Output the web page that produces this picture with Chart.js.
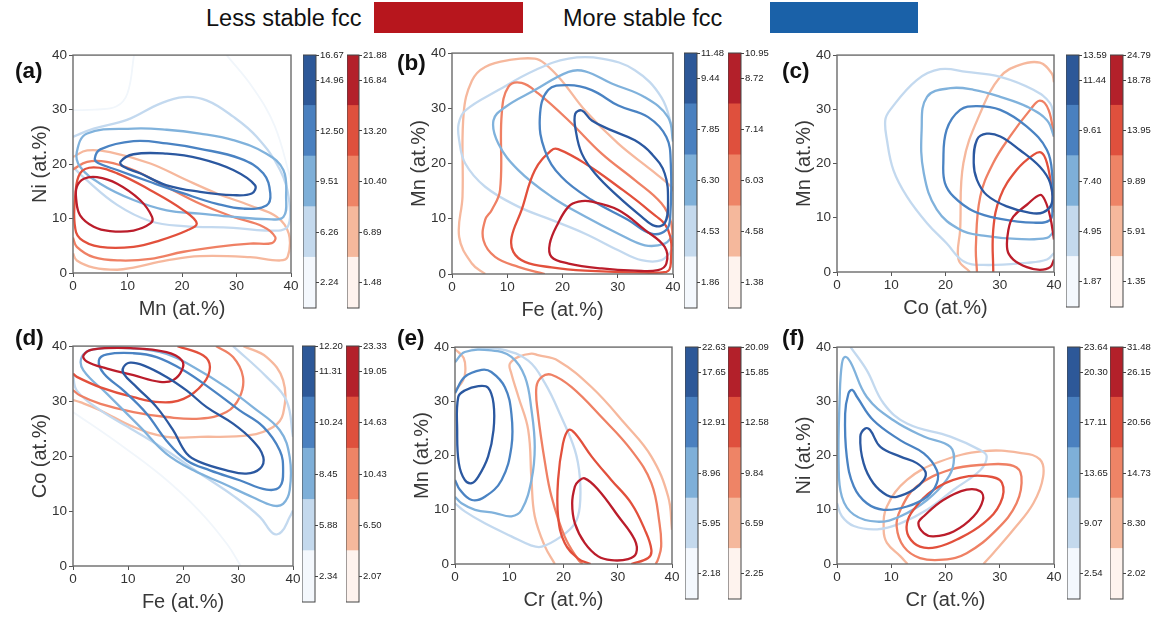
<!DOCTYPE html>
<html>
<head>
<meta charset="utf-8">
<script src="https://cdn.jsdelivr.net/npm/chart.js@4.4.1/dist/chart.umd.min.js"></script>
<style>
  html, body { margin: 0; padding: 0; background: #fff; }
  #wrap { position: relative; width: 1157px; height: 618px; overflow: hidden; background: #fff;
          font-family: 'Liberation Sans', Arial, sans-serif; }
  canvas { position: absolute; }
  .tag { position: absolute; font-weight: bold; font-size: 22.5px; line-height: 26px; color: #111; }
  .leg { position: absolute; font-size: 23.5px; line-height: 30px; color: #111; }
  .swatch { position: absolute; }
</style>
</head>
<body>
<div id="wrap"></div>
<script>
// ---------------- DATA ----------------
const AXIS_TICKS = [0, 10, 20, 30, 40];
const PANEL_TAGS = ['(a)', '(b)', '(c)', '(d)', '(e)', '(f)'];
const AXIS_X = ['Mn (at.%)', 'Fe (at.%)', 'Co (at.%)', 'Fe (at.%)', 'Cr (at.%)', 'Cr (at.%)'];
const AXIS_Y = ['Ni (at.%)', 'Mn (at.%)', 'Mn (at.%)', 'Co (at.%)', 'Mn (at.%)', 'Ni (at.%)'];
const LEGEND_LABELS = ['Less stable fcc', 'More stable fcc'];

// colorbar tick labels, bottom -> top (band centres, then top edge)
const CB_A_BLUE = ['2.24', '6.26', '9.51', '12.50', '14.96', '16.67'];
const CB_A_RED  = ['1.48', '6.89', '10.40', '13.20', '16.84', '21.88'];
const CB_B_BLUE = ['1.86', '4.53', '6.30', '7.85', '9.44', '11.48'];
const CB_B_RED  = ['1.38', '4.58', '6.03', '7.14', '8.72', '10.95'];
const CB_C_BLUE = ['1.87', '4.95', '7.40', '9.61', '11.44', '13.59'];
const CB_C_RED  = ['1.35', '5.91', '9.89', '13.95', '18.78', '24.79'];
const CB_D_BLUE = ['2.34', '5.88', '8.45', '10.24', '11.31', '12.20'];
const CB_D_RED  = ['2.07', '6.50', '10.43', '14.63', '19.05', '23.33'];
const CB_E_BLUE = ['2.18', '5.95', '8.96', '12.91', '17.65', '22.63'];
const CB_E_RED  = ['2.25', '6.59', '9.84', '12.58', '15.85', '20.09'];
const CB_F_BLUE = ['2.54', '9.07', '13.65', '17.11', '20.30', '23.64'];
const CB_F_RED  = ['2.02', '8.30', '14.73', '20.56', '26.15', '31.48'];

// contour lines: [x, y] in at.%, level 0 = highest density, level 4 = faint outer
const A_BLUE = [
  [[8.7,20.4],[11.1,21.8],[17.2,21.9],[23.3,21.0],[29.4,18.9],[33.4,16.1],[32.8,14.6],[29.4,14.3],[23.3,14.9],[17.2,16.1],[12.3,18.3],[9.3,19.5]],
  [[4.0,21.0],[5.0,22.7],[11.1,24.2],[17.2,23.8],[23.3,22.8],[30.7,21.0],[34.9,18.3],[36.2,14.6],[35.5,12.4],[31.3,11.8],[26.4,12.7],[20.3,14.6],[14.2,16.7],[8.1,18.9],[4.6,20.2]],
  [[0.7,22.2],[2.6,25.6],[11.1,26.5],[17.2,26.3],[23.3,25.6],[29.4,24.4],[35.5,21.9],[38.6,18.9],[39.1,14.0],[38.6,10.3],[35.5,9.9],[29.4,10.3],[23.3,10.9],[17.2,11.5],[11.1,13.4],[5.0,16.4],[1.3,19.5]],
  [[0,25.0],[3.8,26.5],[9.9,28.1],[16.0,31.1],[20.3,32.3],[24.5,31.7],[29.4,28.7],[33.7,25.0],[38.0,18.9],[39.7,13.0],[39.4,8.5],[35.5,7.8],[29.4,8.3],[20.3,8.6],[14.2,9.5],[8.1,12.5],[2.0,17.5],[0,19.5]],
  [[0,29.9],[4.0,30.0],[8.0,30.6],[10.0,33.0],[11.2,40]],
  [[28.2,40],[33.0,34.0],[37.0,27.0],[40,17]]
];
const A_BLUE_LVL = [0, 1, 2, 3, 4, 4];
const A_RED = [
  [[0.7,15.8],[2.0,17.3],[4.4,17.6],[8.1,16.4],[12.3,13.4],[14.5,10.3],[14.2,9.1],[11.1,7.8],[6.8,7.7],[3.8,8.5],[1.3,10.6],[0.6,13.4]],
  [[1.3,18.3],[3.8,19.4],[8.1,18.3],[14.2,15.2],[20.3,11.5],[22.7,9.1],[20.9,7.8],[16.0,6.0],[11.1,4.8],[5.0,4.8],[1.3,6.3],[0.3,9.0],[0.4,14.0]],
  [[0,19.0],[2.6,20.4],[6.2,20.4],[11.1,18.9],[17.2,15.8],[23.3,12.7],[29.4,10.3],[34.9,8.5],[37.1,6.6],[36.5,5.5],[32.5,5.4],[26.4,4.8],[20.3,3.9],[14.2,2.6],[8.7,2.3],[3.8,2.9],[0.7,4.8],[0,6.5]],
  [[0,21.3],[2.6,22.5],[6.8,22.2],[14.2,20.1],[20.3,17.3],[26.4,14.6],[32.5,12.4],[37.4,10.3],[39.6,7.2],[39.4,3.0],[38.0,2.3],[32.5,2.9],[23.3,3.1],[17.2,2.3],[11.1,1.0],[8.1,0.6],[3.8,1.0],[0.7,2.3],[0,3.6]]
];
const A_RED_LVL = [0, 1, 2, 3];

const B_BLUE = [
  [[22.3,29.0],[23.5,29.6],[25.3,27.8],[28.9,26.0],[33.1,24.2],[36.1,21.8],[38.5,18.2],[39.1,12.8],[38.5,9.2],[36.7,8.7],[34.3,10.4],[30.1,14.0],[25.9,18.2],[23.5,21.8],[22.4,26.0]],
  [[15.9,28.4],[17.4,33.3],[21.1,34.2],[25.3,33.3],[30.1,30.5],[35.5,28.4],[38.8,24.8],[39.6,20.0],[39.5,10.4],[38.8,8.0],[36.1,7.3],[31.9,9.8],[25.3,13.4],[19.8,17.6],[16.8,22.4]],
  [[40,24],[39.1,28.4],[34.9,32.0],[28.9,34.5],[24.1,36.7],[21.1,36.6],[15.0,33.3],[9.6,30.2],[7.5,27.8],[8.4,23.6],[12.0,18.8],[18.0,14.0],[24.1,10.4],[30.1,7.3],[34.9,5.2],[38.5,5.5],[40,7]],
  [[40,26],[37.9,32.0],[33.1,36.9],[27.1,39.0],[21.1,39.0],[15.0,36.9],[8.4,33.3],[2.4,29.6],[1.2,27.2],[1.3,24.2],[2.4,20.0],[6.0,15.8],[12.0,12.2],[18.0,9.8],[24.1,7.3],[30.1,4.3],[34.3,2.5],[37.9,2.5],[40,4.5]]
];
const B_BLUE_LVL = [0, 1, 2, 3];
const B_RED = [
  [[19.2,9.2],[21.1,12.2],[22.9,13.1],[25.3,13.1],[30.1,11.6],[34.9,8.0],[38.5,4.9],[38.8,1.9],[37.3,0.7],[33.1,0.6],[27.1,1.0],[21.1,1.9],[18.0,3.1],[17.7,5.5]],
  [[10.8,6.7],[12.6,11.6],[15.0,18.8],[18.0,22.4],[19.2,22.6],[24.1,20.0],[30.1,15.8],[35.5,11.6],[39.1,8.0],[39.6,1.9],[38.8,0.4],[33.1,0.3],[24.1,0.6],[18.0,1.2],[13.2,2.2],[11.1,4.0]],
  [[16.8,0],[12.0,1.3],[7.8,3.1],[5.7,6.1],[6.0,9.8],[7.2,11.6],[8.7,15.2],[9.0,29.0],[10.2,33.9],[12.6,34.6],[15.6,32.7],[21.1,27.8],[27.1,21.8],[33.1,17.0],[37.9,12.8],[39.7,9.2],[40,5]],
  [[6.0,0],[3.6,1.9],[1.3,6.7],[1.9,14.0],[2.1,29.0],[3.6,35.0],[6.0,37.5],[10.8,38.8],[15.0,39.0],[16.8,38.1],[19.8,35.1],[24.1,29.6],[30.1,23.6],[36.1,18.8],[39.7,15.8],[40,15]]
];
const B_RED_LVL = [0, 1, 2, 3];

const C_BLUE = [
  [[25.2,20.1],[25.8,24.4],[27.6,25.5],[30.1,25.0],[33.7,22.5],[37.4,19.4],[39.3,16.4],[39.6,12.7],[38.0,11.0],[35.6,10.9],[31.3,12.1],[27.6,14.2],[25.8,17.0]],
  [[19.6,20.1],[20.2,26.2],[22.7,29.9],[25.8,30.6],[30.1,29.9],[35.0,26.8],[38.7,22.5],[39.7,17.6],[39.7,12.1],[39.3,9.6],[36.2,9.1],[30.1,9.8],[25.2,11.2],[21.5,13.9],[19.9,16.4]],
  [[40,25],[38.7,28.0],[35.0,30.5],[30.1,32.3],[25.2,33.6],[20.9,33.9],[16.6,32.3],[15.6,26.2],[16.0,18.2],[18.4,11.5],[22.7,7.8],[27.0,6.7],[33.1,6.1],[38.7,6.3],[40,7.5]],
  [[40,28],[39.3,31.1],[36.2,33.6],[30.1,36.0],[23.9,36.9],[19.0,37.4],[14.7,35.4],[9.8,29.9],[8.9,28.0],[9.2,24.4],[10.4,18.8],[12.9,13.9],[16.6,9.0],[20.2,5.3],[23.3,2.0],[27.0,1.3],[35.0,1.7],[38.7,2.3],[40,3.5]]
];
const C_BLUE_LVL = [0, 1, 2, 3];
const C_RED = [
  [[40,6.0],[39.3,10.2],[38.3,13.3],[37.4,14.2],[35.0,12.4],[32.5,10.2],[31.6,7.8],[31.4,4.1],[32.5,2.3],[35.0,0.9],[37.4,0.4],[39.3,0.9],[40,2.3]],
  [[28.8,0],[28.8,7.8],[30.1,13.9],[33.1,18.8],[36.2,21.6],[37.7,22.0],[38.7,20.1],[39.6,15.2],[40,11]],
  [[25.8,0],[25.6,4.7],[26.4,13.9],[28.8,20.1],[31.9,25.0],[35.6,29.9],[37.4,31.6],[39.0,29.9],[40,25.0]],
  [[24.5,0],[22.4,2.3],[22.7,7.8],[23.3,20.1],[26.4,29.3],[30.1,36.0],[33.7,38.2],[37.4,38.6],[39.6,36.6],[40,35]]
];
const C_RED_LVL = [0, 1, 2, 3];

const D_BLUE = [
  [[9.2,36.2],[10.4,37.0],[12.8,36.5],[17.0,34.4],[20.7,31.9],[24.3,28.9],[29.1,25.9],[32.7,22.8],[34.6,19.8],[34.0,17.7],[31.5,16.8],[27.9,17.4],[23.1,18.9],[20.7,20.4],[18.2,24.7],[15.2,28.9],[11.6,32.5],[9.2,35.0]],
  [[4.7,37.4],[6.2,38.5],[11.0,38.7],[15.2,38.0],[20.1,35.6],[25.5,31.9],[30.3,28.3],[34.6,25.3],[37.6,21.0],[38.2,17.4],[37.6,14.4],[35.2,13.9],[30.3,15.6],[24.9,17.4],[20.7,19.2],[17.0,22.8],[13.4,27.7],[9.2,31.9],[5.6,35.0]],
  [[1.6,38.0],[3.7,39.4],[11.0,39.6],[17.0,38.6],[21.9,36.2],[27.9,32.5],[32.7,28.9],[37.6,24.7],[39.4,19.8],[39.4,13.8],[38.2,11.3],[36.4,11.0],[32.7,12.5],[27.3,15.0],[21.9,17.4],[17.0,20.4],[12.2,25.3],[6.2,31.3],[1.9,35.6]],
  [[0,35.0],[0.7,31.9],[5.0,28.3],[11.0,24.7],[17.0,21.0],[23.1,16.8],[29.1,12.8],[34.0,8.9],[36.4,5.9],[37.9,6.2],[39.4,8.9],[40,10.1]],
  [[29.1,40],[35.2,34.4],[38.8,30.1],[40,23.5]],
  [[0,28.0],[8.0,22.5],[16.0,16.5],[23.0,10.0],[28.0,4.0],[30.5,0]]
];
const D_BLUE_LVL = [0, 1, 2, 3, 3, 4];
const D_RED = [
  [[1.9,38.3],[3.7,39.4],[11.0,39.6],[17.0,38.9],[19.8,37.4],[19.8,35.6],[18.2,33.8],[15.8,33.5],[11.0,34.7],[6.2,35.9],[2.5,37.2]],
  [[19.0,40],[23.7,38.3],[24.9,36.2],[23.7,33.2],[20.1,30.4],[15.8,29.8],[11.0,30.7],[5.0,32.5],[0.7,34.4],[0,35]],
  [[26,40],[29.1,38.0],[30.9,34.4],[30.3,30.7],[27.9,28.0],[23.1,26.8],[17.0,27.1],[11.0,28.0],[5.0,29.5],[1.3,31.0],[0,32]],
  [[31,40],[35.2,38.0],[38.2,33.8],[38.2,27.7],[36.4,25.3],[32.1,23.8],[23.1,23.5],[17.0,23.5],[11.0,25.3],[5.0,28.3],[1.3,29.8],[0,30.2]]
];
const D_RED_LVL = [0, 1, 2, 3];

const E_BLUE = [
  [[0.6,30.8],[1.8,32.0],[4.3,32.8],[6.1,32.5],[7.1,29.6],[7.1,24.7],[6.1,19.8],[4.3,16.1],[3.1,14.9],[1.8,15.5],[0.7,18.6],[0.4,24.7]],
  [[0,31.5],[1.8,34.5],[4.9,35.8],[6.7,35.4],[9.2,32.6],[10.4,27.7],[10.4,21.6],[8.6,15.5],[5.5,12.4],[3.1,11.8],[0.9,13.7],[0,15.5]],
  [[0,37.2],[1.8,39.1],[6.7,39.4],[10.4,38.2],[12.9,34.5],[14.1,28.4],[14.7,21.6],[14.1,15.5],[12.3,10.0],[10.4,8.8],[7.4,9.4],[3.7,10.0],[1.2,11.2],[0,12.4]],
  [[3,40],[8.6,39.6],[13.5,37.5],[16.6,33.3],[19.6,27.1],[22.1,21.0],[23.0,16.1],[23.0,10.6],[22.1,7.5],[19.6,5.1],[16.0,3.2],[14.1,3.4],[10.4,5.1],[5.5,7.5],[1.8,9.7],[0,11.2]]
];
const E_BLUE_LVL = [0, 1, 2, 3];
const E_RED = [
  [[22.1,14.3],[22.7,15.2],[23.9,15.8],[26.4,13.7],[30.1,8.8],[33.1,4.5],[33.4,2.0],[31.9,0.9],[28.8,0.7],[26.4,1.4],[23.9,3.9],[22.1,7.5],[21.6,11.2]],
  [[32.5,0],[35.6,1.1],[36.2,2.6],[35.0,6.3],[32.5,11.2],[28.8,15.5],[25.2,19.8],[22.1,24.1],[20.9,24.7],[19.9,22.2],[19.0,15.5],[19.0,8.8],[20.2,3.9],[22.7,1.0],[25,0]],
  [[37,0],[37.4,0.8],[38.0,3.2],[37.7,7.5],[36.2,14.9],[32.5,21.0],[27.0,27.1],[21.5,32.6],[17.8,34.9],[16.0,34.5],[15.0,32.6],[15.3,27.7],[16.6,18.6],[17.8,12.4],[20.2,5.1],[22.7,0.8],[23.5,0]],
  [[40,6.3],[39.3,12.4],[36.2,19.8],[31.3,25.9],[25.2,32.6],[19.0,37.5],[15.3,38.5],[14.1,38.8],[11.7,38.2],[10.1,36.9],[10.4,35.1],[11.7,30.8],[13.5,24.7],[14.1,15.5],[14.7,8.8],[16.6,3.2],[18.4,0]],
  [[0,39.6],[1.6,38.0],[1.9,35.5],[1.5,33.9],[0.3,32.3],[0,32]]
];
const E_RED_LVL = [0, 1, 2, 3, 3];

const F_BLUE = [
  [[4.3,23.5],[5.2,25.0],[6.1,24.7],[8.0,21.6],[11.7,19.8],[14.7,18.6],[16.3,17.0],[16.0,15.5],[14.1,13.7],[11.0,12.4],[9.2,12.7],[6.7,14.9],[4.9,18.6]],
  [[1.5,27.7],[2.1,31.4],[2.8,32.1],[3.7,30.8],[6.7,26.5],[11.7,22.8],[16.0,20.4],[18.4,17.3],[18.4,14.9],[16.6,12.4],[12.9,10.6],[8.6,10.0],[5.5,11.2],[3.1,14.3],[1.8,19.8]],
  [[0.5,30.8],[0.9,36.9],[1.5,38.2],[2.5,37.2],[5.5,30.8],[10.4,26.5],[16.0,23.5],[20.9,21.6],[21.5,18.6],[20.2,15.5],[16.6,11.8],[11.7,8.8],[7.4,7.8],[3.1,9.1],[0.9,12.4],[0.3,18.6]],
  [[2.5,40],[5.5,35.7],[8.6,29.6],[12.9,25.9],[20.9,23.5],[26.4,21.0],[27.6,19.8],[26.4,17.3],[21.5,13.7],[16.6,10.0],[11.7,7.5],[7.4,6.4],[3.1,7.0],[0.9,8.8],[0,11.2]]
];
const F_BLUE_LVL = [0, 1, 2, 3];
const F_RED = [
  [[15.0,7.5],[16.0,8.8],[19.6,11.8],[23.9,13.7],[26.4,13.4],[26.9,11.8],[25.2,8.8],[21.5,6.0],[17.8,5.1],[16.0,5.7]],
  [[12.9,7.5],[14.1,10.0],[17.8,13.7],[22.7,15.9],[27.6,16.2],[30.4,15.0],[30.1,11.2],[27.0,7.5],[22.1,4.5],[18.4,3.1],[15.3,3.2],[13.2,5.1]],
  [[11.0,6.9],[11.7,10.0],[14.7,14.3],[20.9,17.4],[27.0,18.3],[32.5,18.1],[34.0,16.1],[33.1,11.2],[29.4,6.3],[23.9,2.0],[19.6,0.8],[15.3,1.1],[12.3,3.2]],
  [[27.0,0],[28.8,2.0],[32.5,6.3],[36.2,11.2],[38.0,16.1],[37.4,19.3],[33.7,20.5],[27.0,20.8],[19.0,18.9],[12.9,15.5],[9.2,10.6],[8.6,6.3],[9.2,3.9],[11.7,1.4],[13,0]]
];
const F_RED_LVL = [0, 1, 2, 3];

// ---------------- STYLE ----------------
const FONT = "'Liberation Sans', Arial, Helvetica, sans-serif";
const BLUE_LINE = ['#2b58a0', '#4a83c3', '#80b2dc', '#c3d9ef', '#f1f6fb'];
const RED_LINE  = ['#bb1d2b', '#e2503c', '#ef8064', '#f6b89d', '#fdf1eb'];
const BLUE_BAND = ['#f4f8fd', '#c4d9ed', '#7eafd8', '#4a80bf', '#2d5898'];
const RED_BAND  = ['#fef3ee', '#f5b89c', '#ee8466', '#df503d', '#b3202a'];

const PANELS = [
  { blue: A_BLUE, bl: A_BLUE_LVL, red: A_RED, rl: A_RED_LVL, box: [73, 55, 218, 218], cbB: [303, 55, 13, 253], cbR: [347, 55, 12, 253], labB: CB_A_BLUE, labR: CB_A_RED, tag: [15, 71] },
  { blue: B_BLUE, bl: B_BLUE_LVL, red: B_RED, rl: B_RED_LVL, box: [452, 53, 221, 221], cbB: [684, 53, 13, 255], cbR: [728, 53, 13, 255], labB: CB_B_BLUE, labR: CB_B_RED, tag: [397, 63] },
  { blue: C_BLUE, bl: C_BLUE_LVL, red: C_RED, rl: C_RED_LVL, box: [837, 55, 217, 217], cbB: [1066, 55, 13, 252], cbR: [1110, 55, 13, 252], labB: CB_C_BLUE, labR: CB_C_RED, tag: [782, 71] },
  { blue: D_BLUE, bl: D_BLUE_LVL, red: D_RED, rl: D_RED_LVL, box: [73, 346, 220, 220], cbB: [302, 346, 13, 256], cbR: [346, 346, 13, 256], labB: CB_D_BLUE, labR: CB_D_RED, tag: [15, 338] },
  { blue: E_BLUE, bl: E_BLUE_LVL, red: E_RED, rl: E_RED_LVL, box: [455, 347, 217, 217], cbB: [685, 347, 13, 252], cbR: [728, 347, 13, 252], labB: CB_E_BLUE, labR: CB_E_RED, tag: [397, 338] },
  { blue: F_BLUE, bl: F_BLUE_LVL, red: F_RED, rl: F_RED_LVL, box: [837, 347, 217, 217], cbB: [1067, 347, 13, 252], cbR: [1110, 347, 13, 252], labB: CB_F_BLUE, labR: CB_F_RED, tag: [782, 338] }
];

// ---------------- RENDER ----------------
Chart.defaults.font.family = FONT;
const wrap = document.getElementById('wrap');

function mkCanvas(l, t, w, h) {
  const c = document.createElement('canvas');
  c.width = w; c.height = h;
  c.style.left = l + 'px'; c.style.top = t + 'px';
  c.style.width = w + 'px'; c.style.height = h + 'px';
  wrap.appendChild(c);
  return c;
}
function mkDiv(cls, l, t, text, extra) {
  const d = document.createElement('div');
  d.className = cls;
  d.style.left = l + 'px'; d.style.top = t + 'px';
  if (text) d.textContent = text;
  Object.assign(d.style, extra || {});
  wrap.appendChild(d);
  return d;
}

const framePlugin = {
  id: 'frame',
  afterDraw(chart, args, opts) {
    const a = chart.chartArea, ctx = chart.ctx;
    ctx.save();
    ctx.strokeStyle = opts.color || '#666';
    ctx.lineWidth = opts.width || 1.3;
    ctx.strokeRect(a.left, a.top, a.right - a.left, a.bottom - a.top);
    ctx.restore();
  }
};
// make closed contours smooth loops
const loopPlugin = {
  id: 'loopContours',
  afterDatasetUpdate(chart, args) {
    const ds = chart.data.datasets[args.index];
    const line = args.meta.dataset;
    if (ds.closed && line) {
      line._loop = true;
      line._fullLoop = true;
      delete line._segments;
      line._path = undefined;
      line._pointsUpdated = false;
      if (line.updateControlPoints) line.updateControlPoints(chart.chartArea, 'x');
    }
  }
};

const onEdge = p => p[0] <= 0 || p[0] >= 40 || p[1] <= 0 || p[1] >= 40;

function contourSets(list, lvls, colors) {
  return list.map((pts, i) => {
    const open = onEdge(pts[0]) && onEdge(pts[pts.length - 1]);
    return {
      data: pts.map(p => ({ x: p[0], y: p[1] })),
      showLine: true,
      closed: !open,
      borderColor: colors[lvls[i]],
      borderWidth: lvls[i] === 4 ? 1.8 : 2.3,
      pointRadius: 0,
      tension: 0.4,
      fill: false,
      clip: 0,
      order: lvls[i]
    };
  });
}

function drawPanel(p, idx) {
  const [L, T, W, H] = p.box;
  const YW = 45, XH = 48, PT = 10, PR = 14;
  const cv = mkCanvas(L - YW, T - PT, YW + W + PR, PT + H + XH);
  const tickFont = { size: 13.5, family: FONT };
  const titleFont = { size: 20, family: FONT };
  new Chart(cv, {
    type: 'scatter',
    data: { datasets: [...contourSets(p.blue, p.bl, BLUE_LINE), ...contourSets(p.red, p.rl, RED_LINE)] },
    options: {
      responsive: false, animation: false, events: [], devicePixelRatio: 1,
      layout: { padding: { top: PT, right: PR, left: 0, bottom: 0 } },
      plugins: { legend: { display: false }, tooltip: { enabled: false }, frame: { color: '#6b6b6b', width: 1.4 } },
      scales: {
        x: {
          type: 'linear', min: 0, max: 40,
          afterBuildTicks: s => { s.ticks = AXIS_TICKS.map(v => ({ value: v })); },
          ticks: { font: tickFont, color: '#333', padding: 1, maxRotation: 0 },
          grid: { drawOnChartArea: false, drawTicks: true, tickLength: 4, color: '#555', lineWidth: 1 },
          border: { display: false },
          title: { display: true, text: AXIS_X[idx], font: titleFont, color: '#383838', padding: 0 },
          afterFit: s => { s.height = XH; }
        },
        y: {
          type: 'linear', min: 0, max: 40,
          afterBuildTicks: s => { s.ticks = AXIS_TICKS.map(v => ({ value: v })); },
          ticks: { font: tickFont, color: '#333', padding: 2 },
          grid: { drawOnChartArea: false, drawTicks: true, tickLength: 4, color: '#555', lineWidth: 1 },
          border: { display: false },
          title: { display: true, text: AXIS_Y[idx], font: titleFont, color: '#383838', padding: 0 },
          afterFit: s => { s.width = YW; }
        }
      }
    },
    plugins: [framePlugin, loopPlugin]
  });

  drawColorbar(p.cbB, BLUE_BAND, p.labB);
  drawColorbar(p.cbR, RED_BAND, p.labR);

  mkDiv('tag', p.tag[0], p.tag[1] - 13, PANEL_TAGS[idx]);
}

function drawColorbar(geom, bands, labels) {
  const [l, t, w, h] = geom;
  const AW = 40, PAD = 7;
  const cv = mkCanvas(l, t - PAD, w + AW, h + 2 * PAD);
  new Chart(cv, {
    type: 'bar',
    data: {
      labels: [''],
      datasets: bands.map(c => ({ data: [1], backgroundColor: c, borderWidth: 0, barPercentage: 1, categoryPercentage: 1, inflateAmount: 0.5 }))
    },
    options: {
      responsive: false, animation: false, events: [], devicePixelRatio: 1,
      layout: { padding: { top: PAD, bottom: PAD, left: 0, right: 0 } },
      plugins: { legend: { display: false }, tooltip: { enabled: false }, frame: { color: '#444', width: 1 } },
      scales: {
        x: { display: false, stacked: true },
        y: {
          stacked: true, min: 0, max: 5, position: 'right',
          afterBuildTicks: s => { s.ticks = [0.5, 1.5, 2.5, 3.5, 4.5, 5].map(v => ({ value: v })); },
          ticks: { autoSkip: false, font: { size: 9.5, family: FONT }, color: '#222', padding: 1,
                   callback: (v, i) => labels[i] },
          grid: { drawOnChartArea: false, drawTicks: true, tickLength: 3, color: '#444', lineWidth: 1 },
          border: { display: false },
          afterFit: s => { s.width = AW; }
        }
      }
    },
    plugins: [framePlugin]
  });
}

PANELS.forEach(drawPanel);

// top legend
mkDiv('leg', 206, 3, LEGEND_LABELS[0]);
mkDiv('swatch', 374, 2, '', { width: '149px', height: '31px', background: '#b7161d' });
mkDiv('leg', 563, 3, LEGEND_LABELS[1]);
mkDiv('swatch', 770, 2, '', { width: '148px', height: '31px', background: '#1a61a8' });
</script>
</body>
</html>
